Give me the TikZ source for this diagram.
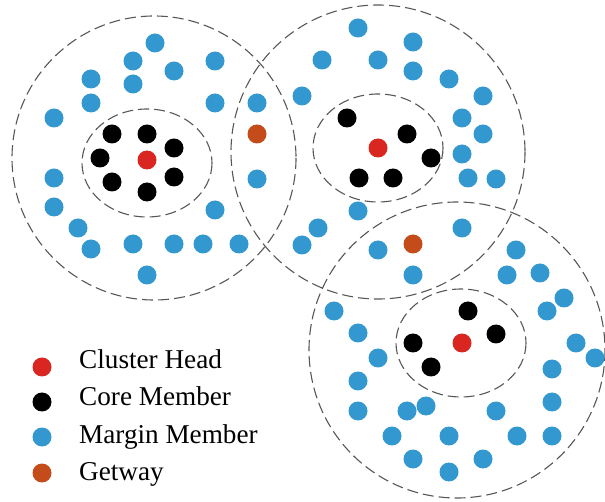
\documentclass[tikz,border=0pt]{standalone}
\usepackage{fontspec}
\setmainfont{Liberation Serif}
\begin{document}
\begin{tikzpicture}[x=1pt,y=-1pt,
  zone/.style={draw=black!66,line width=1.1pt,dash pattern=on 11pt off 5pt},
  dot/.style={circle,inner sep=0pt,minimum size=19pt},
  head/.style={dot,fill=headred},
  core/.style={dot,fill=black},
  margin/.style={dot,fill=marginblue},
  gate/.style={dot,fill=gateorange},
  legendtext/.style={anchor=base west,inner sep=0pt,font=\fontsize{27.2}{30}\selectfont}]
\definecolor{headred}{RGB}{218,38,32}
\definecolor{marginblue}{RGB}{52,152,208}
\definecolor{gateorange}{RGB}{196,76,26}
\useasboundingbox (0,0) rectangle (605,502);

% cluster boundaries
\draw[zone] (154,158) circle (142);
\draw[zone] (378,152) circle (147);
\draw[zone] (457,350) circle (148);
\draw[zone] (147,163) ellipse (65 and 54);
\draw[zone] (378,148) ellipse (65 and 54);
\draw[zone] (461,343) ellipse (65 and 54);

% cluster 1
\node[head] (h1) at (147,160) {};
\foreach \p [count=\i] in {(112,134),(147,134),(174,148),(100,158),(174,177),(112,182),(147,192)}
  \node[core] (c1\i) at \p {};
\foreach \p [count=\i] in {(155,43),(133,61),(215,61),(174,71),(91,79),(133,84),(91,103),(215,103),
  (257,103),(54,118),(54,178),(257,179),(54,207),(215,210),(78,228),(91,249),(133,244),(174,244),
  (203,244),(239,244),(147,275)}
  \node[margin] (m1\i) at \p {};
\node[gate] (g1) at (257,134) {};

% cluster 2
\node[head] (h2) at (378,148) {};
\foreach \p [count=\i] in {(347,118),(407,134),(431,158),(359,178),(393,178)}
  \node[core] (c2\i) at \p {};
\foreach \p [count=\i] in {(358,28),(413,42),(322,60),(378,60),(413,71),(449,79),(302,96),(483,96),
  (462,118),(483,134),(462,154),(468,178),(496,179),(358,211),(318,228),(302,245),(378,250),
  (462,228),(413,275)}
  \node[margin] (m2\i) at \p {};
\node[gate] (g2) at (413,244) {};

% cluster 3
\node[head] (h3) at (462,343) {};
\foreach \p [count=\i] in {(468,311),(496,334),(413,343),(431,367)}
  \node[core] (c3\i) at \p {};
\foreach \p [count=\i] in {(516,250),(507,275),(540,273),(564,298),(547,311),(334,311),(358,333),
  (378,358),(358,381),(358,411),(407,411),(426,406),(496,411),(552,369),(576,343),(595,358),
  (552,402),(392,436),(449,436),(517,436),(552,436),(413,459),(449,472),(483,459)}
  \node[margin] (m3\i) at \p {};

% legend
\node[head] (lh) at (42,367) {};
\node[core] (lc) at (42,402) {};
\node[margin] (lm) at (42,437) {};
\node[gate] (lg) at (42,473) {};
\node[legendtext] (th) at (79,369) {Cluster Head};
\node[legendtext] (tc) at (79,406) {Core Member};
\node[legendtext] (tm) at (79,443) {Margin Member};
\node[legendtext] (tg) at (79,480) {Getway};
\end{tikzpicture}
\end{document}
